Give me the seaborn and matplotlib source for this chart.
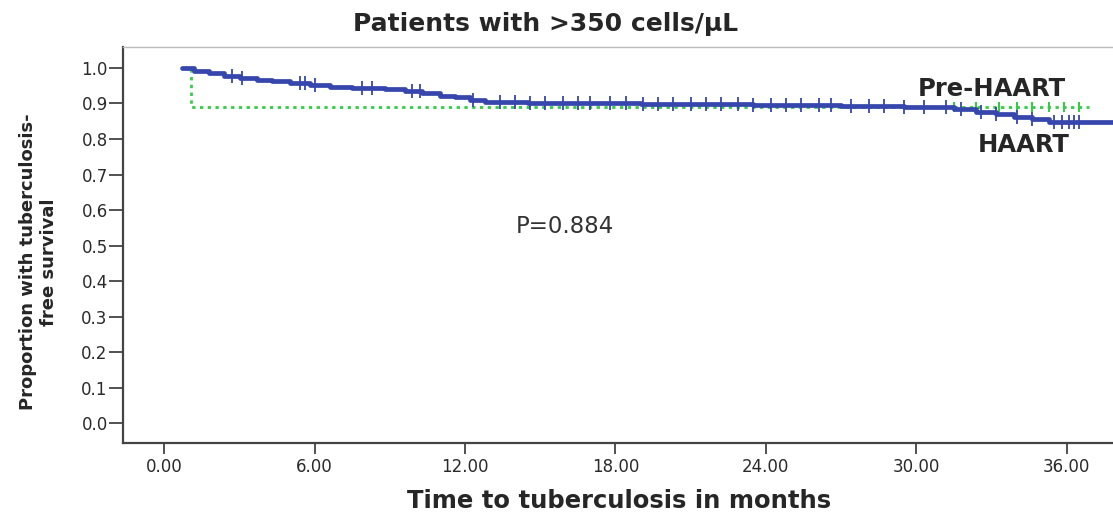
"""Kaplan-Meier style curve: TB-free survival, patients with >350 cells/uL."""
import numpy as np
import pandas as pd
import matplotlib
matplotlib.use('Agg')
import matplotlib.pyplot as plt
import seaborn as sns

# ── data ───────────────────────────────────────────────────────────────
haart_t = [0.7, 1.2, 1.8, 2.4, 3.0, 3.7, 4.3, 5.0, 5.8, 6.6, 7.5, 8.8,
           9.6, 10.3, 11.0, 11.6, 12.2, 12.8, 14.5, 19.0, 23.5, 27.0, 29.5,
           31.5, 32.4, 33.2, 33.9, 34.6, 35.3, 37.9]
haart_s = [1.0, 0.992, 0.985, 0.978, 0.972, 0.966, 0.962, 0.957, 0.951,
           0.946, 0.943, 0.940, 0.935, 0.929, 0.922, 0.917, 0.910, 0.903,
           0.900, 0.898, 0.896, 0.893, 0.889, 0.884, 0.877, 0.870, 0.862,
           0.855, 0.849, 0.847]
haart_cens = [2.7, 3.1, 5.4, 5.6, 6.0, 7.9, 8.3, 9.9, 10.2, 12.3, 13.4, 14.0,
              14.6, 15.2, 15.9, 16.5, 17.0, 17.8, 18.4, 19.1, 19.7, 20.3, 21.0,
              21.6, 22.2, 22.9, 23.5, 24.2, 24.8, 25.4, 26.1, 26.6, 27.4, 28.1,
              28.7, 29.5, 30.3, 31.2, 31.8, 32.6, 33.2, 34.0, 34.6, 35.5, 35.8,
              36.1, 36.3, 36.5]

pre_t = [0.8, 1.05, 36.9]
pre_s = [1.0, 0.89, 0.89]
pre_cens = [31.5, 32.4, 33.3, 34.0, 34.6, 35.3, 35.9, 36.5]

x_ticks = [0, 6, 12, 18, 24, 30, 36]
y_ticks = [0.0, 0.1, 0.2, 0.3, 0.4, 0.5, 0.6, 0.7, 0.8, 0.9, 1.0]

# ── tables for seaborn ─────────────────────────────────────────────────
haart = pd.DataFrame({'t': haart_t, 's': haart_s})
pre = pd.DataFrame({'t': pre_t, 's': pre_s})


def surv_at(t_arr, s_arr, times):
    idx = np.searchsorted(t_arr, times, side='right') - 1
    return np.asarray(s_arr)[idx]


haart_c = pd.DataFrame({'t': haart_cens,
                        's': surv_at(haart_t, haart_s, haart_cens)})
pre_c = pd.DataFrame({'t': pre_cens, 's': surv_at(pre_t, pre_s, pre_cens)})

sns.set_style('white')
plt.rcParams['font.family'] = ['DejaVu Sans']

BLUE = '#3646ac'
GREEN = '#33cc44'

fig = plt.figure(figsize=(11.13, 5.15), dpi=100)
ax = fig.add_axes([0.1105, 0.1398, 0.8895, 0.7689])

sns.lineplot(data=pre, x='t', y='s', ax=ax, color=GREEN, lw=2,
             linestyle=(0, (1.2, 1.6)), drawstyle='steps-post', zorder=3)
sns.scatterplot(data=pre_c, x='t', y='s', ax=ax, marker='|', s=60,
                color=GREEN, linewidth=1.5, zorder=3)
sns.lineplot(data=haart, x='t', y='s', ax=ax, color=BLUE, lw=3.4,
             drawstyle='steps-post', zorder=4)
sns.scatterplot(data=haart_c, x='t', y='s', ax=ax, marker='|', s=110,
                color=BLUE, linewidth=1.3, zorder=4)

ax.set_xlim(-1.65, 37.85)
ax.set_ylim(-0.056, 1.059)
ax.set_xticks(x_ticks)
ax.set_xticklabels([f'{v:.2f}' for v in x_ticks])
ax.set_yticks(y_ticks)
ax.set_yticklabels([f'{v:.1f}' for v in y_ticks])
ax.tick_params(axis='both', direction='out', width=1.2, color='#333333',
               labelsize=12, labelcolor='#2a2a2a', bottom=True, left=True)
ax.tick_params(axis='x', length=8, pad=3)
ax.tick_params(axis='y', length=10, pad=1)

for side in ['left', 'bottom']:
    ax.spines[side].set_color('#444444')
    ax.spines[side].set_linewidth(1.6)
ax.spines['top'].set_color('#bbbbbb')
ax.spines['top'].set_linewidth(1.0)
ax.spines['right'].set_visible(False)

ax.set_xlabel('Time to tuberculosis in months', fontsize=17.5,
              fontweight='bold')
ax.xaxis.set_label_coords(0.501, -0.117)
ax.set_ylabel('Proportion with tuberculosis-\nfree survival', fontsize=13,
              fontweight='bold', linespacing=1.2)
ax.yaxis.set_label_coords(-0.066, 0.457)
fig.text(546 / 1113, 1 - 24 / 515, 'Patients with >350 cells/µL',
         fontsize=18, fontweight='bold', ha='center', va='center')

ax.text(16.0, 0.555, 'P=0.884', fontsize=16.5, color='#333333', ha='center',
        va='center')
ax.text(33.0, 0.94, 'Pre-HAART', fontsize=17.5, fontweight='bold',
        ha='center', va='center')
ax.text(34.3, 0.784, 'HAART', fontsize=17.5, fontweight='bold', ha='center',
        va='center')

fig.savefig('out.png', dpi=100)
